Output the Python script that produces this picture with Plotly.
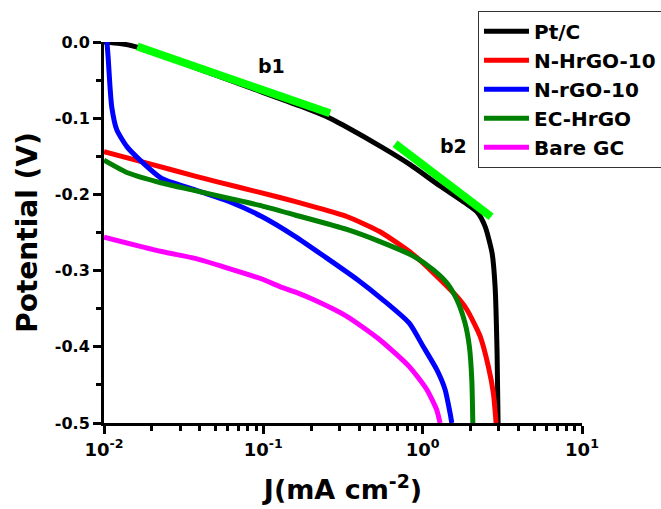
import plotly.graph_objects as go

# Polarization curves: current density J (mA cm^-2) vs potential (V)
pt_j = [0.0100, 0.0126, 0.0157, 0.0260, 0.0400, 0.0825, 0.170, 0.262, 0.316, 0.564,
        0.834, 1.286, 1.845, 2.195, 2.464, 2.727, 2.848, 2.931, 2.974]
pt_v = [0.000, -0.002, -0.006, -0.021, -0.036, -0.060, -0.084, -0.100, -0.109, -0.139,
        -0.161, -0.189, -0.211, -0.223, -0.242, -0.277, -0.321, -0.408, -0.500]

nh_j = [0.0100, 0.0194, 0.0373, 0.0714, 0.127, 0.206, 0.334, 0.540, 0.874,
        1.167, 1.637, 1.892, 2.293, 2.585, 2.778, 2.889]
nh_v = [-0.144, -0.160, -0.176, -0.191, -0.204, -0.216, -0.229, -0.249, -0.279,
        -0.303, -0.334, -0.351, -0.386, -0.426, -0.461, -0.500]

nr_j = [0.01044, 0.01064, 0.0109, 0.01118, 0.01202, 0.01388, 0.01683, 0.0230, 0.0373,
        0.0603, 0.0977, 0.158, 0.244, 0.390, 0.560, 0.824, 1.010, 1.226, 1.382, 1.486, 1.523]
nr_v = [0.000, -0.023, -0.058, -0.085, -0.115, -0.137, -0.155, -0.179, -0.194,
        -0.209, -0.229, -0.255, -0.282, -0.312, -0.338, -0.369, -0.400, -0.430, -0.456, -0.487, -0.500]

ec_j = [0.0100, 0.0142, 0.0230, 0.0373, 0.0603, 0.0977, 0.158, 0.334, 0.540, 0.874,
        1.167, 1.417, 1.637, 1.845, 1.965, 2.034, 2.064]
ec_v = [-0.155, -0.172, -0.185, -0.195, -0.205, -0.215, -0.227, -0.246, -0.262, -0.281,
        -0.299, -0.316, -0.338, -0.369, -0.400, -0.443, -0.500]

gc_j = [0.0100, 0.0230, 0.0373, 0.0603, 0.0977, 0.127, 0.158, 0.206, 0.334, 0.540,
        0.824, 1.061, 1.226, 1.286]
gc_v = [-0.256, -0.275, -0.284, -0.297, -0.311, -0.321, -0.328, -0.338, -0.360, -0.391,
        -0.426, -0.456, -0.483, -0.500]

# Tafel fit segments on the Pt/C curve
b1_j = [0.0162, 0.262]
b1_v = [-0.006, -0.0935]
b2_j = [0.671, 2.688]
b2_v = [-0.1335, -0.2293]

series = [
    ("Pt/C", pt_j, pt_v, "#000000"),
    ("N-HrGO-10", nh_j, nh_v, "#FF0000"),
    ("N-rGO-10", nr_j, nr_v, "#0000FF"),
    ("EC-HrGO", ec_j, ec_v, "#008000"),
    ("Bare GC", gc_j, gc_v, "#FF00FF"),
]

x_tickvals = [0.01, 0.1, 1, 10]
x_ticktext = ["<b>10<sup>-2</sup></b>", "<b>10<sup>-1</sup></b>",
              "<b>10<sup>0</sup></b>", "<b>10<sup>1</sup></b>"]
y_tickvals = [0.0, -0.1, -0.2, -0.3, -0.4, -0.5]
y_ticktext = ["<b>0.0</b>", "<b>-0.1</b>", "<b>-0.2</b>", "<b>-0.3</b>",
              "<b>-0.4</b>", "<b>-0.5</b>"]

FONT = "DejaVu Sans"

fig = go.Figure()
for name, xs, ys, color in series:
    fig.add_trace(go.Scatter(x=xs, y=ys, mode="lines", name="<b>" + name + "</b>",
                             line=dict(color=color, width=5, shape="spline", smoothing=0.6)))

for xs, ys in [(b1_j, b1_v), (b2_j, b2_v)]:
    fig.add_trace(go.Scatter(x=xs, y=ys, mode="lines", showlegend=False,
                             line=dict(color="#00FF00", width=8)))

fig.add_annotation(x=-0.947, y=-0.032, xref="x", yref="y", text="<b>b1</b>", showarrow=False,
                   font=dict(family=FONT, size=19, color="black"))
fig.add_annotation(x=0.191, y=-0.137, xref="x", yref="y", text="<b>b2</b>", showarrow=False,
                   font=dict(family=FONT, size=19, color="black"))

fig.update_layout(
    width=661, height=509,
    margin=dict(l=104, r=79, t=42, b=86, autoexpand=False),
    paper_bgcolor="white", plot_bgcolor="white",
    font=dict(family=FONT, color="black"),
    legend=dict(x=0.7824, y=1.082, xanchor="left", yanchor="top",
                bordercolor="#333333", borderwidth=1, bgcolor="white",
                font=dict(family=FONT, size=20, color="black"),
                itemwidth=45, tracegroupgap=0),
    xaxis=dict(
        type="log", range=[-2, 1],
        showline=True, linecolor="black", linewidth=3,
        showgrid=False, zeroline=False,
        ticks="outside", ticklen=8, tickwidth=3, tickcolor="black",
        tickmode="array", tickvals=x_tickvals, ticktext=x_ticktext,
        tickfont=dict(family=FONT, size=18, color="black"),
        minor=dict(ticks="outside", ticklen=5, tickwidth=3, tickcolor="black",
                   dtick="D1", showgrid=False),
        title=dict(text="<b>J(mA cm<sup>-2</sup>)</b>", standoff=22,
                   font=dict(family=FONT, size=27, color="black")),
    ),
    yaxis=dict(
        range=[-0.5, 0],
        showline=True, linecolor="black", linewidth=3,
        showgrid=False, zeroline=False,
        ticks="outside", ticklen=8, tickwidth=3, tickcolor="black",
        tickmode="array", tickvals=y_tickvals, ticktext=y_ticktext,
        tickfont=dict(family=FONT, size=16, color="black"),
        minor=dict(ticks="outside", ticklen=5, tickwidth=3, tickcolor="black",
                   dtick=0.05, showgrid=False),
        title=dict(text="<b>Potential (V)</b>", standoff=10,
                   font=dict(family=FONT, size=28, color="black")),
    ),
)

fig.write_html("out.html")
